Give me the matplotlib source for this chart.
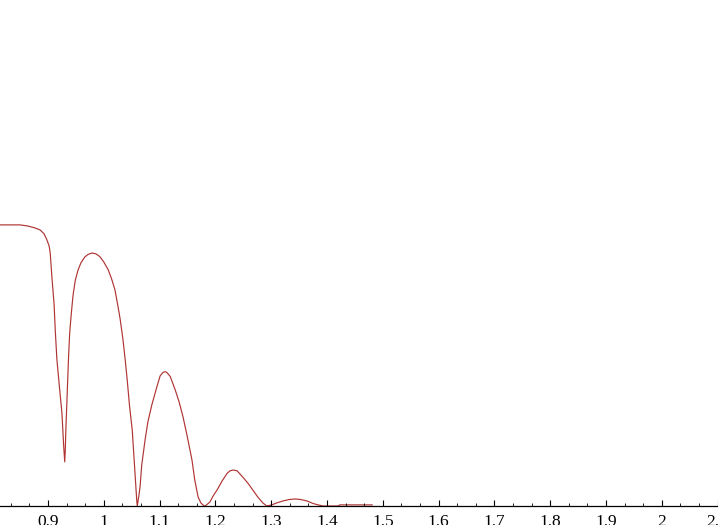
import matplotlib
matplotlib.use("Agg")
import matplotlib.pyplot as plt
from matplotlib.ticker import FixedLocator

# Curve values
x_vals = [0.810, 0.850, 0.864, 0.877, 0.886, 0.893, 0.898, 0.902, 0.904, 0.907,
          0.911, 0.913, 0.916, 0.921, 0.925, 0.928, 0.930, 0.931, 0.932, 0.935,
          0.937, 0.939, 0.942, 0.945, 0.949, 0.954, 0.959, 0.966, 0.972, 0.979,
          0.986, 0.993, 1.000, 1.008, 1.014, 1.020, 1.025, 1.029, 1.034, 1.038,
          1.042, 1.046, 1.051, 1.055, 1.059, 1.060, 1.063, 1.065, 1.068, 1.074,
          1.079, 1.086, 1.095, 1.101, 1.106, 1.110, 1.113, 1.119, 1.128, 1.135,
          1.142, 1.149, 1.158, 1.163, 1.169, 1.174, 1.180, 1.183, 1.190, 1.197,
          1.203, 1.212, 1.221, 1.226, 1.232, 1.239, 1.249, 1.258, 1.267, 1.276,
          1.285, 1.292, 1.301, 1.310, 1.321, 1.332, 1.343, 1.353, 1.364, 1.375,
          1.384, 1.393, 1.420, 1.423, 1.481]
y_vals = [1.000, 1.000, 0.996, 0.989, 0.982, 0.968, 0.947, 0.925, 0.900, 0.815,
          0.715, 0.626, 0.520, 0.413, 0.331, 0.217, 0.157, 0.199, 0.270, 0.431,
          0.537, 0.619, 0.690, 0.751, 0.804, 0.840, 0.865, 0.886, 0.895, 0.900,
          0.897, 0.887, 0.868, 0.840, 0.808, 0.769, 0.715, 0.669, 0.598, 0.527,
          0.448, 0.359, 0.270, 0.146, 0.021, 0.000, 0.039, 0.068, 0.146, 0.235,
          0.299, 0.359, 0.423, 0.463, 0.475, 0.478, 0.475, 0.461, 0.413, 0.370,
          0.317, 0.253, 0.164, 0.093, 0.032, 0.011, 0.000, 0.002, 0.014, 0.039,
          0.057, 0.089, 0.116, 0.125, 0.128, 0.125, 0.103, 0.082, 0.057, 0.032,
          0.011, 0.000, 0.004, 0.011, 0.018, 0.023, 0.025, 0.023, 0.018, 0.009,
          0.004, 0.000, 0.000, 0.004, 0.004]

major_ticks = [0.8, 0.9, 1.0, 1.1, 1.2, 1.3, 1.4, 1.5, 1.6, 1.7, 1.8, 1.9, 2.0, 2.1]
tick_labels = ["0.8", "0.9", "1", "1.1", "1.2", "1.3", "1.4", "1.5", "1.6",
               "1.7", "1.8", "1.9", "2", "2.1"]

W, H = 718, 525
fig = plt.figure(figsize=(W / 100, H / 100), dpi=100)
axis_px = 506
ax = fig.add_axes([0, (H - axis_px) / H, 1, axis_px / H])

ax.plot(x_vals, y_vals, color="#b03434", lw=0.85, zorder=1, clip_on=False)

ax.set_xlim(0.814, 0.814 + W / 558.0)
ax.set_ylim(0, 1.80)

for s in ["top", "right", "left"]:
    ax.spines[s].set_visible(False)
ax.spines["bottom"].set_linewidth(0.9)
ax.spines["bottom"].set_zorder(3)

ax.xaxis.set_major_locator(FixedLocator(major_ticks))
ax.set_xticklabels(tick_labels, family="Liberation Serif", fontsize=12.5)
minor = [round(0.8 + i / 30.0, 5) for i in range(0, 42) if i % 3 != 0]
ax.xaxis.set_minor_locator(FixedLocator(minor))
ax.tick_params(axis="x", which="major", direction="in", length=4.3, width=0.8, pad=6)
ax.tick_params(axis="x", which="minor", direction="in", length=2.2, width=0.6)
ax.set_yticks([])
ax.patch.set_alpha(0)

fig.savefig("out.png", dpi=100)
